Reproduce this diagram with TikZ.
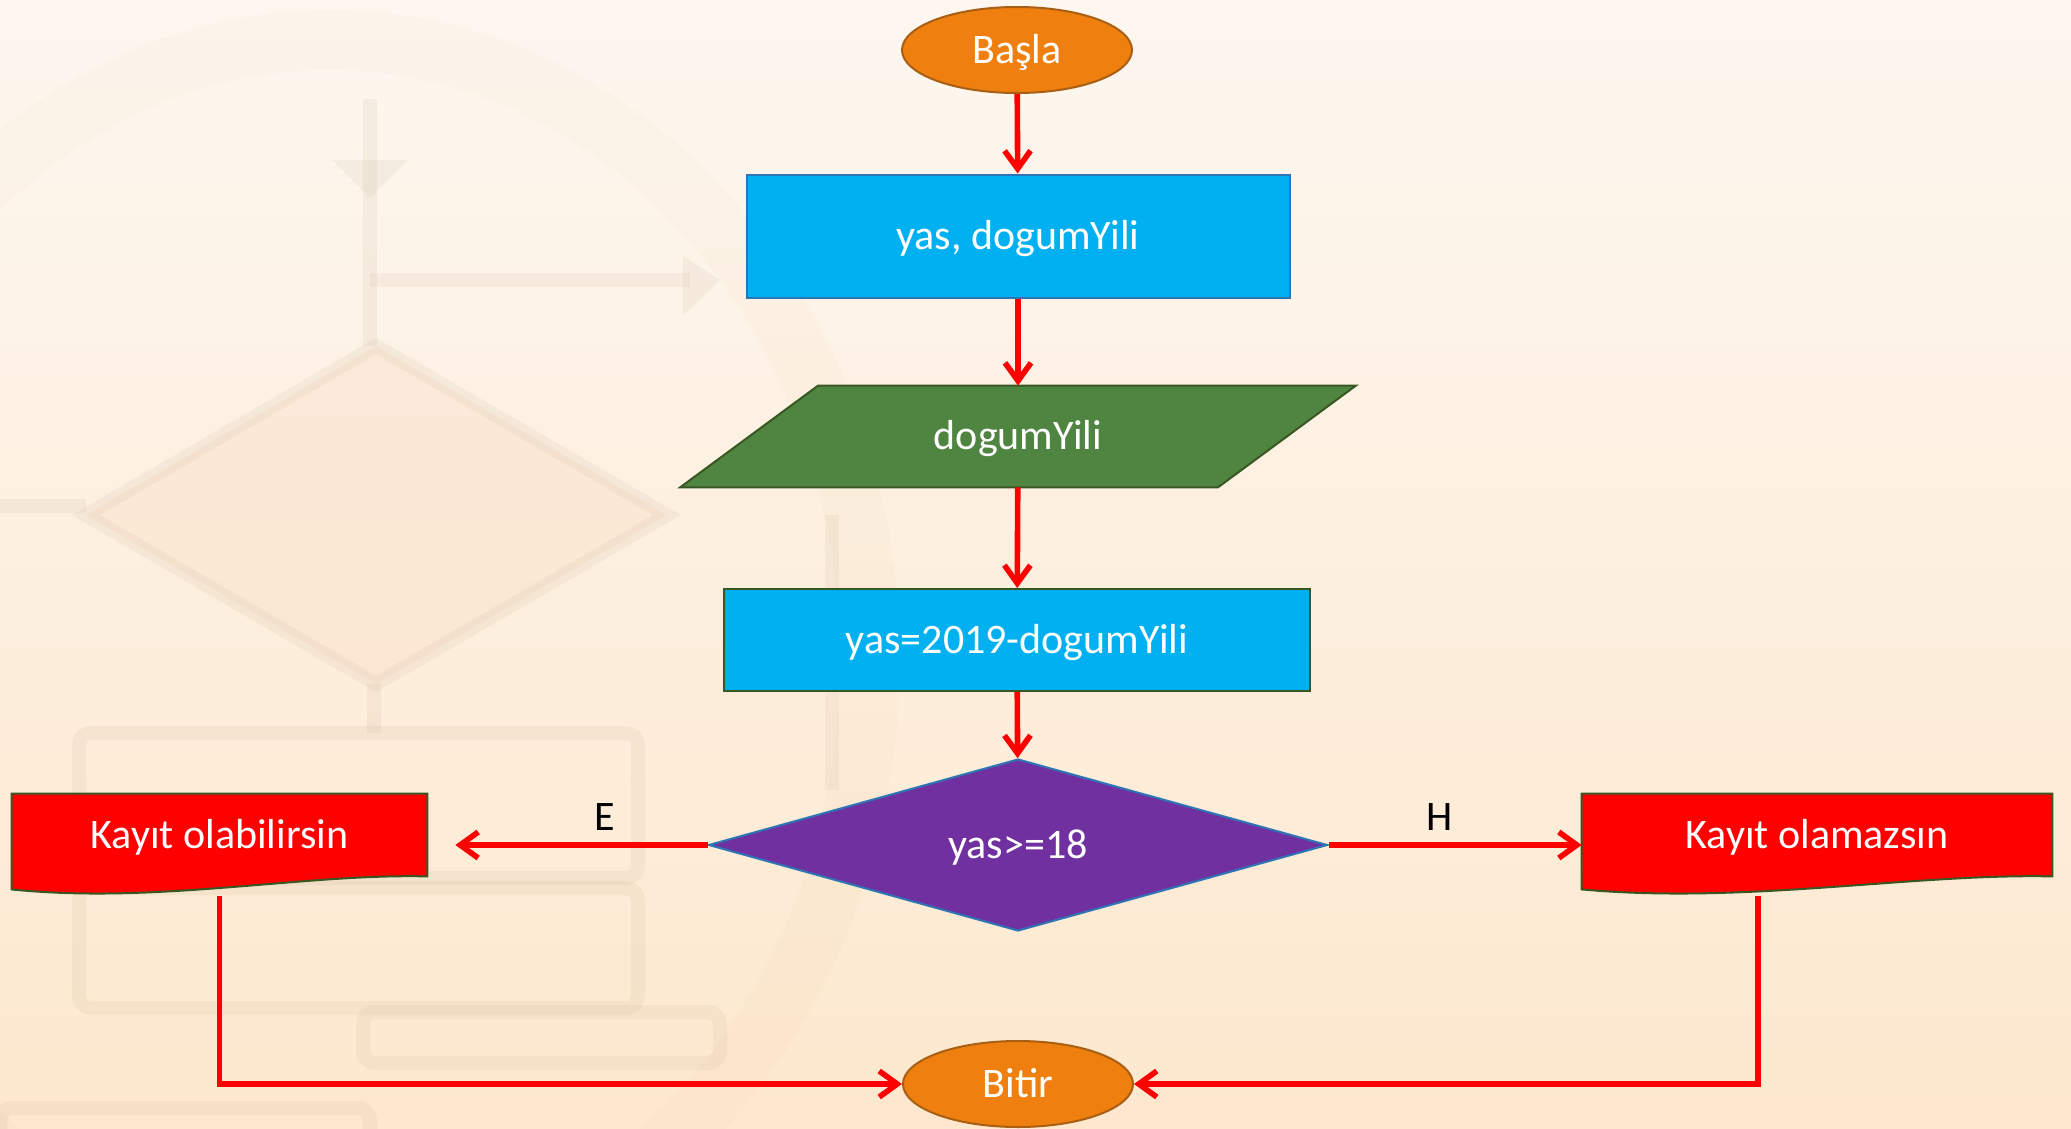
\documentclass[tikz,border=0pt]{standalone}
\usepackage{fontspec}
\setmainfont{Carlito}
\usetikzlibrary{arrows.meta,shapes.geometric,calc}

\definecolor{bgtop}{HTML}{FDF7F0}
\definecolor{bgbot}{HTML}{FDE8CE}
\definecolor{wm}{HTML}{B8A488}
\definecolor{wmring}{HTML}{E8C49A}
\definecolor{wmtint}{HTML}{F9D9C0}
\definecolor{termfill}{HTML}{EF7F0E}
\definecolor{termline}{HTML}{A85F14}
\definecolor{procfill}{HTML}{00B0F0}
\definecolor{procline}{HTML}{2E75B6}
\definecolor{ioline}{HTML}{385723}
\definecolor{iofill}{HTML}{508441}
\definecolor{decfill}{HTML}{7030A0}
\definecolor{flowred}{HTML}{FF0000}

\pgfdeclarelayer{paper}
\pgfdeclarelayer{shapes}
\pgfsetlayers{paper,shapes,main}

\tikzset{
  lbl/.style={font=\fontsize{21}{25}\selectfont, text=white, inner sep=0pt,
    text height=15.9pt, text depth=2.7pt},
  terminal/.style={lbl, ellipse, draw=termline, fill=termfill, line width=1pt,
    minimum width=115pt, minimum height=43pt},
  process/.style={lbl, rectangle, fill=procfill, line width=1pt},
  decision/.style={lbl, diamond, draw=procline, fill=decfill, line width=1pt,
    shape aspect=3.6, minimum width=309.5pt, minimum height=86pt},
  docbox/.style={lbl, rectangle, minimum height=41pt},
  docfill/.style={fill=flowred, draw=ioline, line width=1pt},
  iofillstyle/.style={fill=iofill, draw=ioline, line width=1pt},
  branch/.style={font=\fontsize{21}{25}\selectfont, text=black, inner sep=0pt},
  flow/.style={draw=flowred, line width=2.8pt,
    -{Straight Barb[length=9pt,width=13pt]}},
  wmline/.style={draw=wm, draw opacity=0.11, line width=7pt},
  wmhead/.style={fill=wm, fill opacity=0.11},
}

% document symbol with a wavy lower edge, drawn behind the node #1 of width #2 (px)
\newcommand\docsymbol[2]{%
  \path[docfill] (#1.north west) -- (#1.north east) -- (#1.south east)
    .. controls ($(#1.south east)+(-0.3*#2,-3)$) and ($(#1.south west)+(0.35*#2,28)$)
    .. ($(#1.south west)+(0,13)$) -- cycle;}

\begin{document}
\begin{tikzpicture}[x=0.5pt, y=-0.5pt]
\useasboundingbox (0,0) rectangle (2071,1129);

% paper and faint flowchart watermark
\begin{pgfonlayer}{paper}
  \fill[top color=bgtop, bottom color=bgbot] (0,0) rectangle (2071,1129);
  \begin{scope}
    \clip (0,0) rectangle (2071,1129);
    \draw[draw=wmring, draw opacity=0.06, line width=30pt] (330,660) ellipse [x radius=540, y radius=620];
    \fill[wmtint, fill opacity=0.3] (86,515) -- (376,346) -- (667,515) -- (376,684) -- cycle;
    \draw[wmline] (370,99) -- (370,346);
    \fill[wmhead] (332,160) -- (408,160) -- (370,198) -- cycle;
    \draw[wmline] (370,280) -- (690,280);
    \fill[wmhead] (683,256) -- (720,280) -- (683,316) -- cycle;
    \draw[wmline] (86,515) -- (376,346) -- (667,515) -- (376,684) -- cycle;
    \draw[wmline] (0,506) -- (86,506);
    \draw[wmline] (374,684) -- (374,733);
    \draw[wmline] (832,515) -- (832,790);
    \draw[wmline, rounded corners=6pt] (79,733) rectangle (638,878);
    \draw[wmline, rounded corners=6pt] (79,888) rectangle (638,1008);
    \draw[wmline, rounded corners=6pt] (363,1012) rectangle (720,1063);
    \draw[wmline, rounded corners=6pt] (0,1108) rectangle (370,1140);
  \end{scope}
\end{pgfonlayer}

% flowchart nodes
\node[terminal] (start) at (1017,50) {Başla};
\node[process, draw=procline, minimum width=271.5pt, minimum height=61.5pt] (vars) at (1018,236) {yas, dogumYili};
\node[lbl, minimum width=337.5pt, minimum height=50.5pt] (input) at (1018,436.5) {dogumYili};
\node[process, draw=ioline, minimum width=293pt, minimum height=51pt] (calc) at (1017,640) {yas=2019-dogumYili};
\node[decision] (dec) at (1018,845) {yas>=18};
\node[docbox, minimum width=207.5pt] (yes) at (219.5,835) {Kayıt olabilirsin};
\node[docbox, minimum width=235pt] (no) at (1817,835) {Kayıt olamazsın};
\node[terminal] (stop) at (1018,1084) {Bitir};

% input parallelogram and document symbols
\begin{pgfonlayer}{shapes}
  \path[iofillstyle] ($(input.north west)+(138,0)$) -- (input.north east)
    -- ($(input.south east)+(-138,0)$) -- (input.south west) -- cycle;
  \docsymbol{yes}{415}
  \docsymbol{no}{470}
\end{pgfonlayer}

% connectors
\draw[flow] (start) -- (vars);
\draw[flow] (vars) -- (input);
\draw[flow] (input) -- (calc);
\draw[flow] (calc) -- (dec);
\draw[flow, shorten >=14pt] (dec.west) -- (dec.west -| yes.east);
\draw[flow] (dec.east) -- (dec.east -| no.west);
\draw[flow] ([yshift=-10pt]yes.south) |- (stop.west);
\draw[flow] ([xshift=-29.5pt,yshift=-10pt]no.south) |- (stop.east);

% branch labels
\node[branch] (lblE) at (604.5,817.5) {E};
\node[branch] (lblH) at (1440,817.5) {H};
\end{tikzpicture}
\end{document}
